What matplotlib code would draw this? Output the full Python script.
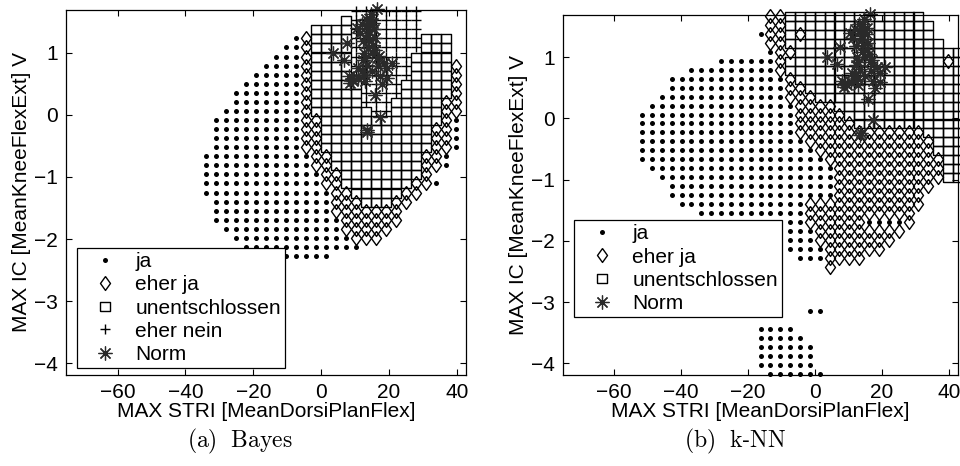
import numpy as np
import matplotlib
matplotlib.use('Agg')
from matplotlib import pyplot as plt
from matplotlib.lines import Line2D

plt.rcParams['font.family'] = ['Liberation Sans', 'DejaVu Sans']
plt.rcParams['mathtext.fontset'] = 'cm'

# 41 x 41 evaluation grid of the two decision maps
x_grid = np.linspace(-75.2, 42.7, 41)
y_grid = np.linspace(1.67, -4.17, 41)

# class codes: o = ja, d = eher ja, s = unentschlossen, + = eher nein
# row index -> list of (class, first column, last column)
bayes_rows = {
    0: [('+', 29, 35)],
    1: [('s', 28, 28), ('+', 29, 35)],
    2: [('s', 25, 28), ('+', 29, 35)],
    3: [('o', 23, 23), ('d', 24, 24), ('s', 25, 28), ('+', 29, 35), ('s', 36, 38)],
    4: [('o', 22, 23), ('d', 24, 24), ('s', 25, 28), ('+', 29, 35), ('s', 36, 38)],
    5: [('o', 21, 23), ('d', 24, 24), ('s', 25, 28), ('+', 29, 34), ('s', 35, 38)],
    6: [('o', 20, 23), ('d', 24, 24), ('s', 25, 28), ('+', 29, 34), ('s', 35, 38), ('d', 39, 39)],
    7: [('o', 19, 23), ('d', 24, 24), ('s', 25, 28), ('+', 29, 34), ('s', 35, 38), ('d', 39, 39)],
    8: [('o', 18, 23), ('d', 24, 24), ('s', 25, 29), ('+', 30, 33), ('s', 34, 38), ('d', 39, 39)],
    9: [('o', 17, 23), ('d', 24, 24), ('s', 25, 29), ('+', 30, 33), ('s', 34, 38), ('d', 39, 39)],
    10: [('o', 17, 23), ('d', 24, 24), ('s', 25, 29), ('+', 30, 32), ('s', 33, 37), ('d', 38, 39)],
    11: [('o', 16, 23), ('d', 24, 24), ('s', 25, 30), ('+', 31, 32), ('s', 33, 37), ('d', 38, 39)],
    12: [('o', 15, 23), ('d', 24, 25), ('s', 26, 37), ('d', 38, 38), ('o', 39, 39)],
    13: [('o', 15, 23), ('d', 24, 25), ('s', 26, 36), ('d', 37, 38), ('o', 39, 39)],
    14: [('o', 15, 23), ('d', 24, 25), ('s', 26, 36), ('d', 37, 38), ('o', 39, 39)],
    15: [('o', 15, 23), ('d', 24, 25), ('s', 26, 36), ('d', 37, 38), ('o', 39, 39)],
    16: [('o', 14, 24), ('d', 25, 26), ('s', 27, 35), ('d', 36, 37), ('o', 38, 38)],
    17: [('o', 14, 24), ('d', 25, 26), ('s', 27, 35), ('d', 36, 37), ('o', 38, 38)],
    18: [('o', 14, 25), ('d', 26, 27), ('s', 28, 35), ('d', 36, 36)],
    19: [('o', 14, 25), ('d', 26, 27), ('s', 28, 34), ('d', 35, 36), ('o', 37, 37)],
    20: [('o', 14, 26), ('d', 27, 28), ('s', 29, 33), ('d', 34, 35)],
    21: [('o', 15, 26), ('d', 27, 29), ('s', 30, 32), ('d', 33, 34)],
    22: [('o', 15, 26), ('d', 27, 33)],
    23: [('o', 15, 27), ('d', 28, 33)],
    24: [('o', 16, 27), ('d', 28, 32)],
    25: [('o', 17, 28), ('d', 29, 31)],
    26: [('o', 18, 29)],
    27: [('o', 22, 26)],
}

knn_rows = {
    0: [('d', 21, 22), ('s', 23, 36)],
    1: [('d', 21, 22), ('s', 23, 37)],
    2: [('o', 20, 20), ('d', 21, 22), ('s', 23, 23), ('d', 24, 24), ('s', 25, 37)],
    3: [('d', 21, 22), ('s', 23, 38)],
    4: [('o', 21, 21), ('d', 22, 23), ('s', 24, 40)],
    5: [('o', 16, 21), ('d', 22, 22), ('s', 23, 38), ('d', 39, 39), ('s', 40, 40)],
    6: [('o', 13, 21), ('d', 22, 22), ('s', 23, 40)],
    7: [('o', 11, 22), ('d', 23, 23), ('s', 24, 40)],
    8: [('o', 11, 22), ('d', 23, 24), ('s', 25, 40)],
    9: [('o', 10, 22), ('d', 23, 25), ('s', 26, 40)],
    10: [('o', 9, 23), ('d', 24, 27), ('s', 28, 40)],
    11: [('o', 8, 23), ('d', 24, 28), ('s', 29, 40)],
    12: [('o', 8, 23), ('d', 24, 29), ('s', 30, 40)],
    13: [('o', 8, 23), ('d', 24, 36), ('s', 37, 40)],
    14: [('o', 8, 24), ('d', 25, 37), ('s', 38, 40)],
    15: [('o', 8, 25), ('d', 26, 37), ('s', 38, 40)],
    16: [('o', 8, 26), ('d', 27, 38), ('s', 39, 40)],
    17: [('o', 9, 27), ('d', 28, 38), ('s', 39, 40)],
    18: [('o', 10, 27), ('d', 28, 38), ('s', 39, 40)],
    19: [('o', 11, 27), ('d', 28, 37)],
    20: [('o', 11, 27), ('d', 28, 36)],
    21: [('o', 12, 24), ('d', 25, 36)],
    22: [('o', 14, 24), ('d', 25, 35)],
    23: [('o', 15, 24), ('d', 25, 30), ('o', 31, 34), ('d', 35, 35)],
    24: [('o', 15, 25), ('d', 26, 34)],
    25: [('o', 16, 25), ('d', 26, 33)],
    26: [('o', 20, 26), ('d', 27, 32)],
    27: [('o', 24, 26), ('d', 27, 30)],
    28: [('d', 27, 27)],
    33: [('o', 25, 26)],
    35: [('o', 20, 23)],
    36: [('o', 20, 24)],
    37: [('o', 20, 25)],
    38: [('o', 20, 25)],
    39: [('o', 20, 25)],
    40: [('o', 21, 26)],
}

# training samples of the norm group
norm_x = [16.4, 14.6, 12.0, 13.4, 15.4, 10.5, 13.9, 15.9, 12.4, 7.5, 3.6, 6.6,
          13.9, 14.9, 16.4, 18.4, 20.8, 13.4, 12.0, 8.1, 9.5, 12.9, 17.3, 19.3,
          17.8, 15.9, 17.3, 13.4, 11.5, 15.4, 14.4, 8.6, 19.3, 12.9, 14.0, 16.0,
          13.0, 11.0, 15.0, 17.0, 14.5, 12.5, 9.0, 13.6, 14.2, 15.6, 12.2, 16.8,
          10.8, 13.2]
norm_y = [1.70, 1.62, 1.46, 1.43, 1.48, 1.40, 1.29, 1.24, 1.19, 1.16, 1.00, 0.89,
          1.08, 1.00, 0.92, 0.84, 0.84, 0.81, 0.70, 0.62, 0.54, 0.54, 0.62, 0.59,
          0.49, 0.32, -0.03, -0.27, 1.32, 1.13, 1.54, 0.51, 0.75, 0.92, 1.35, 1.05,
          0.65, 0.75, 0.70, 0.95, 1.45, 1.00, 0.58, -0.24, 1.20, 1.38, 0.88, 0.78,
          0.60, 1.55]

diamond = [(0, 1), (0.72, 0), (0, -1), (-0.72, 0), (0, 1)]
box = [(-1, -0.9), (1, -0.9), (1, 0.9), (-1, 0.9), (-1, -0.9)]
styles = {
    'o': dict(marker='o', ms=3.6, mfc='k', mec='k', mew=0),
    'd': dict(marker=diamond, ms=10.0, mfc='none', mec='k', mew=1.0),
    's': dict(marker=box, ms=7.2, mfc='none', mec='k', mew=1.0),
    '+': dict(marker='+', ms=7.6, mec='k', mew=1.0),
    '*': dict(marker=(8, 2, 0), ms=10, mec='#2a2a2a', mew=0.9),
}
names = {'o': 'ja', 'd': 'eher ja', 's': 'unentschlossen', '+': 'eher nein', '*': 'Norm'}
FS = 15


def draw_map(ax, rows):
    for code in 'ods+':
        xs, ys = [], []
        for r, spans in rows.items():
            for k, c0, c1 in spans:
                if k != code:
                    continue
                for c in range(c0, c1 + 1):
                    xs.append(x_grid[c])
                    ys.append(y_grid[r])
        if xs:
            ax.plot(xs, ys, ls='none', clip_on=False, **styles[code])
    ax.plot(norm_x, norm_y, ls='none', clip_on=False, **styles['*'])


def style_axes(ax):
    ax.set_xlim(-75.2, 42.7)
    ax.set_ylim(-4.19, 1.69)
    ax.set_xticks([-60, -40, -20, 0, 20, 40])
    ax.set_yticks([-4, -3, -2, -1, 0, 1])
    ax.tick_params(direction='in', length=4, width=0.8, top=True, right=True,
                   labelsize=FS, pad=6)
    for s in ax.spines.values():
        s.set_linewidth(0.9)
    ax.set_xlabel('MAX STRI [MeanDorsiPlanFlex]', fontsize=FS, labelpad=0)
    ax.set_ylabel('MAX IC [MeanKneeFlexExt] V', fontsize=FS, labelpad=2)


def add_legend(ax, codes, anchor):
    handles = [Line2D([], [], ls='none', **styles[k]) for k in codes]
    leg = ax.legend(handles, [names[k] for k in codes], loc='lower left',
                    bbox_to_anchor=anchor, borderaxespad=0, fontsize=FS,
                    fancybox=False, framealpha=1, edgecolor='k',
                    handlelength=2.3, handletextpad=0.3, borderpad=0.2,
                    labelspacing=0.2)
    leg.get_frame().set_linewidth(0.9)


fig = plt.figure(figsize=(9.6, 4.66), dpi=100)
ax1 = fig.add_axes([66 / 960, 91 / 466, 400 / 960, 365 / 466])
ax2 = fig.add_axes([563 / 960, 91 / 466, 395 / 960, 360 / 466])

draw_map(ax1, bayes_rows)
style_axes(ax1)
add_legend(ax1, 'ods+*', (0.0275, 0.019))

draw_map(ax2, knn_rows)
style_axes(ax2)
add_legend(ax2, 'ods*', (0.028, 0.161))

fig.text(240 / 960, 1 - 441 / 466, r'$\mathrm{(a)\ \ Bayes}$', fontsize=17,
         ha='center', va='center')
fig.text(735 / 960, 1 - 441 / 466, r'$\mathrm{(b)\ \ k}$-$\mathrm{NN}$', fontsize=17,
         ha='center', va='center')

fig.savefig('out.png', dpi=100)
